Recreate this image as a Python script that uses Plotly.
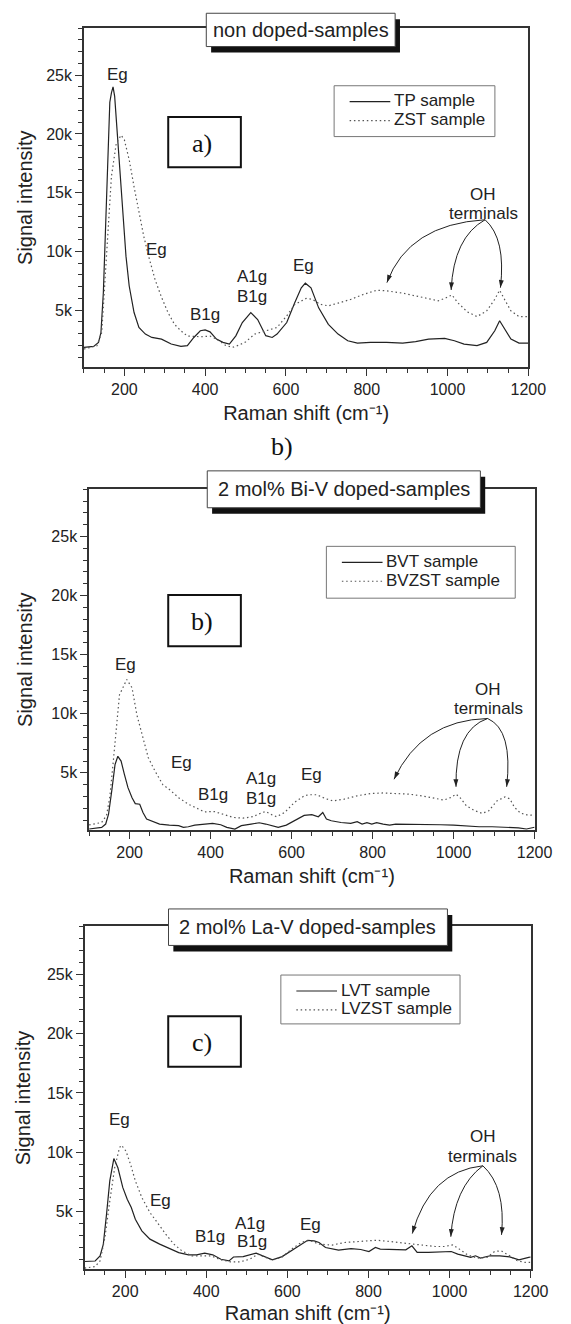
import math
import plotly.graph_objects as go

W, H = 571, 1324

# ---------------------------------------------------------------- data
# Raman shift (cm^-1) and signal intensity (thousands of counts)

# a) non doped samples
tp_shift = [100, 124, 136, 142, 148, 154, 160, 164, 168, 172, 176, 180, 188, 196, 204, 212,
            224, 236, 252, 268, 292, 316, 340, 356, 372, 388, 400, 412, 428, 444, 460, 476,
            492, 513, 530, 550, 566, 578, 602, 622, 638, 648, 662, 681, 705, 729, 753, 777,
            809, 849, 889, 921, 953, 993, 1017, 1041, 1073, 1097, 1117, 1129, 1141, 1157,
            1177, 1200]
tp_k = [1.84, 1.92, 2.26, 3.1, 6.5, 12.1, 19.2, 22.7, 23.5, 24.0, 23.2, 21.2, 16.95, 12.7,
        9.6, 7.06, 4.8, 3.53, 2.97, 2.68, 2.54, 2.12, 1.92, 1.98, 2.68, 3.25, 3.33, 3.16,
        2.54, 2.26, 2.12, 2.82, 3.95, 4.8, 4.2, 2.83, 2.68, 2.97, 3.95, 5.65, 6.9, 7.3, 6.9,
        5.2, 3.8, 2.97, 2.4, 2.2, 2.26, 2.26, 2.2, 2.32, 2.54, 2.6, 2.4, 2.12, 1.98, 2.26,
        3.25, 4.1, 3.4, 2.54, 2.2, 2.2]

zst_shift = [100, 132, 144, 156, 168, 180, 192, 200, 212, 224, 236, 248, 260, 276, 292, 308,
             324, 340, 356, 372, 392, 412, 428, 452, 468, 484, 500, 523, 554, 578, 602, 622,
             650, 665, 685, 705, 729, 761, 793, 825, 849, 889, 937, 977, 993, 1011, 1025,
             1049, 1073, 1097, 1117, 1129, 1141, 1157, 1177, 1200]
zst_k = [1.7, 1.98, 3.1, 9.3, 16.4, 19.2, 19.9, 19.5, 17.8, 15.5, 13.3, 11.3, 9.6, 7.6, 6.1,
         4.8, 3.8, 3.25, 2.8, 2.77, 2.74, 2.8, 2.54, 1.98, 1.84, 2.03, 2.3, 2.97, 3.25, 3.53,
         4.52, 5.5, 6.0, 5.93, 5.5, 5.37, 5.6, 5.93, 6.36, 6.7, 6.65, 6.45, 6.1, 5.8, 6.0,
         6.3, 5.65, 4.86, 4.46, 4.94, 5.93, 6.7, 5.93, 4.94, 4.46, 4.46]

# b) 2 mol% Bi-V doped samples
bvt_shift = [100, 131, 141, 148, 156, 164, 171, 179, 187, 196, 206, 214, 225, 233, 242, 258,
             274, 298, 321, 333, 345, 361, 385, 405, 425, 440, 460, 476, 500, 520, 536, 552,
             567, 587, 607, 631, 650, 666, 677, 686, 698, 722, 746, 762, 774, 786, 798, 810,
             826, 842, 857, 889, 913, 944, 968, 1000, 1032, 1063, 1095, 1127, 1160, 1180, 1200]
bvt_k = [0.25, 0.39, 0.67, 1.5, 3.5, 5.7, 6.4, 6.0, 4.9, 3.75, 2.9, 2.4, 2.35, 1.65, 1.1,
         0.87, 0.67, 0.58, 0.53, 0.39, 0.44, 0.58, 0.67, 0.72, 0.61, 0.39, 0.25, 0.53, 0.67,
         0.78, 0.67, 0.53, 0.39, 0.58, 0.95, 1.4, 1.46, 1.29, 1.65, 1.1, 0.95, 0.8, 0.72,
         0.87, 0.67, 0.78, 0.67, 0.78, 0.67, 0.58, 0.67, 0.67, 0.61, 0.67, 0.61, 0.58, 0.5,
         0.44, 0.44, 0.42, 0.35, 0.25, 0.4]

bvzst_shift = [100, 131, 143, 151, 159, 167, 175, 193, 206, 218, 230, 246, 262, 282, 298,
               321, 345, 369, 385, 409, 433, 456, 480, 504, 528, 536, 548, 563, 583, 607, 631,
               642, 662, 682, 702, 730, 762, 794, 826, 857, 889, 921, 953, 976, 992, 1006,
               1016, 1032, 1052, 1071, 1087, 1107, 1127, 1139, 1150, 1165, 1181, 1200]
bvzst_k = [0.6, 0.8, 1.4, 2.9, 5.7, 8.8, 11.6, 12.9, 12.2, 9.9, 8.25, 6.3, 5.2, 4.0, 3.6,
           2.9, 2.35, 1.93, 1.7, 1.73, 1.5, 1.23, 1.17, 1.29, 1.65, 1.73, 1.5, 1.29, 1.65,
           2.5, 3.05, 3.15, 3.15, 2.84, 2.63, 2.78, 3.06, 3.25, 3.3, 3.28, 3.2, 3.06, 2.87,
           2.7, 2.9, 3.2, 2.9, 2.2, 1.8, 1.57, 1.8, 2.63, 2.97, 2.8, 2.1, 1.6, 1.45, 1.4]

# c) 2 mol% La-V doped samples
lvt_shift = [100, 126, 138, 146, 154, 162, 172, 182, 194, 205, 215, 225, 241, 261, 285, 309,
             332, 356, 376, 396, 416, 436, 456, 467, 491, 523, 539, 563, 587, 610, 634, 650,
             666, 678, 694, 726, 757, 781, 801, 817, 829, 861, 892, 907, 920, 948, 980, 1004,
             1020, 1036, 1052, 1064, 1076, 1100, 1124, 1148, 1171, 1195, 1200]
lvt_k = [0.82, 0.86, 1.28, 2.26, 4.8, 7.6, 9.48, 8.7, 7.05, 6.06, 5.36, 4.38, 3.4, 2.7, 2.28,
         1.94, 1.57, 1.38, 1.38, 1.52, 1.38, 1.01, 0.87, 1.2, 1.23, 1.52, 1.29, 0.96, 1.23,
         1.71, 2.28, 2.6, 2.55, 2.42, 2.0, 1.77, 1.91, 1.83, 1.66, 2.0, 1.86, 1.8, 1.8, 2.14,
         1.58, 1.58, 1.63, 1.66, 1.44, 1.3, 1.16, 1.3, 1.1, 1.3, 1.3, 1.21, 0.96, 1.16, 1.2]

lvzst_shift = [100, 126, 138, 150, 162, 174, 186, 191, 202, 214, 225, 241, 261, 281, 300,
               320, 340, 364, 388, 412, 436, 460, 483, 507, 527, 543, 563, 587, 610, 634, 654,
               678, 710, 741, 781, 821, 861, 900, 932, 964, 988, 1008, 1024, 1044, 1068, 1092,
               1111, 1127, 1148, 1167, 1187, 1200]
lvzst_k = [0.26, 0.4, 0.87, 2.83, 5.9, 8.7, 10.4, 10.6, 10.1, 8.9, 7.6, 6.2, 4.94, 3.96,
           3.12, 2.28, 1.71, 1.29, 1.29, 1.29, 0.96, 0.79, 0.79, 1.01, 1.43, 1.23, 0.93, 1.2,
           1.85, 2.42, 2.6, 2.28, 2.2, 2.42, 2.5, 2.61, 2.47, 2.33, 2.22, 2.08, 2.08, 2.22,
           1.86, 1.38, 1.1, 1.16, 1.66, 1.72, 1.3, 0.88, 0.74, 0.74]

# axis ticks
x_tick_vals = [200, 400, 600, 800, 1000, 1200]
x_tick_text = ["200", "400", "600", "800", "1000", "1200"]
y_tick_vals = [5000, 10000, 15000, 20000, 25000]
y_tick_text = ["5k", "10k", "15k", "20k", "25k"]
X_RANGE = [100, 1200]
Y_RANGE = [150, 29000]

x_title = "Raman shift (cm\u207b\u00b9)"
y_title = "Signal intensity"
panel_titles = ["non doped-samples", "2 mol% Bi-V doped-samples", "2 mol% La-V doped-samples"]
panel_tags = ["a)", "b)", "c)"]
solid_names = ["TP sample", "BVT sample", "LVT sample"]
dotted_names = ["ZST sample", "BVZST sample", "LVZST sample"]

# mode labels: (text, shift, intensity in thousands) per panel
mode_labels = [
    [("Eg", 183, 25.1), ("Eg", 280, 10.2), ("B1g", 400, 4.66), ("A1g", 515, 7.9),
     ("B1g", 515, 6.13), ("Eg", 644, 8.84), ("OH", 1088, 14.83), ("terminals", 1088, 13.2)],
    [("Eg", 189, 14.2), ("Eg", 327, 5.87), ("B1g", 405, 3.2), ("A1g", 524, 4.55),
     ("B1g", 524, 2.83), ("Eg", 648, 4.83), ("OH", 1086, 12.05), ("terminals", 1086, 10.42)],
    [("Eg", 187, 12.8), ("Eg", 286, 5.98), ("B1g", 409, 2.9), ("A1g", 508, 4.0),
     ("B1g", 513, 2.5), ("Eg", 657, 3.96), ("OH", 1082, 11.3), ("terminals", 1082, 9.65)],
]

# curved pointers to the OH bands: start, control point, end (shift, thousands)
oh_arrows = [
    [((1093, 12.7), (903, 12.3), (850, 7.35)),
     ((1093, 12.7), (1015, 11.2), (1009, 6.72)),
     ((1093, 12.7), (1145, 11.1), (1131, 6.92))],
    [((1084, 9.6), (921, 9.46), (853, 4.46)),
     ((1084, 9.6), (1003, 8.66), (1006, 3.82)),
     ((1084, 9.6), (1147, 8.66), (1131, 3.82))],
    [((1082, 8.87), (950, 8.4), (908, 3.17)),
     ((1082, 8.87), (1011, 7.07), (1003, 2.9)),
     ((1082, 8.87), (1139, 7.1), (1128, 3.06))],
]

# ---------------------------------------------------------------- layout geometry (px)
plot_boxes = [  # left, right, top, bottom
    (86.7, 545.5, 28.3, 368.3),
    (92.0, 552.0, 490.7, 832.7),
    (87.4, 548.0, 929.3, 1273.3),
]
title_boxes = [  # left, right, top, bottom
    (213, 408, 13.3, 46.7),
    (214, 496, 472.3, 509.3),
    (174, 462, 911.7, 948.3),
]
tag_boxes = [
    (173.7, 248.7, 117.3, 167.7),
    (173.7, 248.7, 596.7, 648.3),
    (173.7, 248.7, 1019.3, 1070.0),
]
legend_boxes = [  # left, right, top, bottom
    (345, 511, 86, 137),
    (337, 532, 548, 600),
    (290, 475, 978, 1027),
]
x_title_standoff = [9, 9, 10]
y_title_standoff = [8, 13, 11]
between_tag = ("b)", 291, 448)

SANS = "Liberation Sans, Arial, sans-serif"
SERIF = "Liberation Serif, Times New Roman, serif"
INK = "#222222"
AX = "#333333"
DOTTED = "1.5px,2.8px"


def px(xp):
    return xp / W


def py(yp):
    return 1 - yp / H


series = [
    (tp_shift, tp_k, zst_shift, zst_k),
    (bvt_shift, bvt_k, bvzst_shift, bvzst_k),
    (lvt_shift, lvt_k, lvzst_shift, lvzst_k),
]

fig = go.Figure()
shapes = []
annotations = []
layout_axes = {}

for i in range(3):
    n = "" if i == 0 else str(i + 1)
    xa, ya = "x" + n, "y" + n
    s_x, s_y, d_x, d_y = series[i]
    l, r, t, b = plot_boxes[i]

    fig.add_trace(go.Scatter(
        x=s_x, y=[v * 1000 for v in s_y], mode="lines", name=solid_names[i],
        line=dict(color=INK, width=1.2), xaxis=xa, yaxis=ya, showlegend=False))
    fig.add_trace(go.Scatter(
        x=d_x, y=[v * 1000 for v in d_y], mode="lines", name=dotted_names[i],
        line=dict(color="#555555", width=1.2, dash=DOTTED), xaxis=xa, yaxis=ya,
        showlegend=False))

    common = dict(showline=True, linecolor=AX, linewidth=1.5, mirror=True,
                  ticks="outside", tickcolor=AX, tickwidth=1.2, ticklen=7,
                  showgrid=False, zeroline=False,
                  tickfont=dict(family=SANS, size=16, color=INK))
    layout_axes["xaxis" + n] = dict(
        common, domain=[px(l), px(r)], anchor=ya, range=X_RANGE,
        tickmode="array", tickvals=x_tick_vals, ticktext=x_tick_text,
        minor=dict(ticks="outside", tick0=0, dtick=50, ticklen=4, tickcolor=AX, tickwidth=1),
        title=dict(text=x_title, standoff=x_title_standoff[i],
                   font=dict(family=SANS, size=20, color=INK)))
    layout_axes["yaxis" + n] = dict(
        common, domain=[py(b), py(t)], anchor=xa, range=Y_RANGE,
        tickmode="array", tickvals=y_tick_vals, ticktext=y_tick_text,
        minor=dict(ticks="outside", tick0=0, dtick=1000, ticklen=4, tickcolor=AX, tickwidth=1),
        title=dict(text=y_title, standoff=y_title_standoff[i],
                   font=dict(family=SANS, size=20, color=INK)))

    # title box with drop shadow
    tl, tr, tt, tb = title_boxes[i]
    shapes.append(dict(type="rect", xref="paper", yref="paper", layer="above",
                       x0=px(tl + 5), x1=px(tr + 5), y0=py(tb + 6), y1=py(tt + 6),
                       fillcolor="#111111", line=dict(width=0)))
    shapes.append(dict(type="rect", xref="paper", yref="paper", layer="above",
                       x0=px(tl), x1=px(tr), y0=py(tb), y1=py(tt),
                       fillcolor="white", line=dict(color="#444444", width=1)))
    annotations.append(dict(
        xref="paper", yref="paper", x=px((tl + tr) / 2), y=py((tt + tb) / 2),
        text=panel_titles[i], showarrow=False, xanchor="center", yanchor="middle",
        font=dict(family=SANS, size=20, color=INK)))

    # panel tag box
    gl, gr, gt, gb = tag_boxes[i]
    shapes.append(dict(type="rect", xref="paper", yref="paper", layer="above",
                       x0=px(gl), x1=px(gr), y0=py(gb), y1=py(gt),
                       fillcolor="white", line=dict(color="#111111", width=2)))
    annotations.append(dict(
        xref="paper", yref="paper", x=px((gl + gr) / 2 - 3), y=py((gt + gb) / 2 + 1),
        text=panel_tags[i], showarrow=False, xanchor="center", yanchor="middle",
        font=dict(family=SERIF, size=26, color="#111111")))

    # legend: framed box with a line sample per series
    ll, lr, lt, lb = legend_boxes[i]
    shapes.append(dict(type="rect", xref="paper", yref="paper", layer="above",
                       x0=px(ll), x1=px(lr), y0=py(lb), y1=py(lt),
                       fillcolor="white", line=dict(color="#777777", width=1)))
    rows = [(solid_names[i], dict(color=INK, width=1.2), lt + 16),
            (dotted_names[i], dict(color="#555555", width=1.2, dash=DOTTED), lt + 35)]
    for name, style, ry in rows:
        shapes.append(dict(type="line", xref="paper", yref="paper", layer="above",
                           x0=px(ll + 16), x1=px(ll + 58), y0=py(ry), y1=py(ry),
                           line=style))
        annotations.append(dict(
            xref="paper", yref="paper", x=px(ll + 60), y=py(ry - 1), text=name,
            showarrow=False, xanchor="left", yanchor="middle",
            font=dict(family=SANS, size=17, color=INK)))

    # vibrational mode labels
    for text, xs, yk in mode_labels[i]:
        annotations.append(dict(
            xref=xa, yref=ya, x=xs, y=yk * 1000, text=text, showarrow=False,
            xanchor="center", yanchor="middle",
            font=dict(family=SANS, size=17, color=INK)))

    # curved pointers; arrowheads follow the curve's end tangent on screen
    sx = (r - l) / (X_RANGE[1] - X_RANGE[0])
    sy = (b - t) / (Y_RANGE[1] - Y_RANGE[0])
    head_x, head_y, head_angle = [], [], []
    for (x0, y0), (cx, cy), (x1, y1) in oh_arrows[i]:
        shapes.append(dict(
            type="path", xref=xa, yref=ya, layer="above",
            path=f"M {x0},{y0 * 1000} Q {cx},{cy * 1000} {x1},{y1 * 1000}",
            line=dict(color=INK, width=1)))
        dx = (x1 - cx) * sx
        dy = -(y1 - cy) * 1000 * sy
        head_x.append(x1)
        head_y.append(y1 * 1000)
        head_angle.append(math.degrees(math.atan2(dx, -dy)))
    fig.add_trace(go.Scatter(
        x=head_x, y=head_y, mode="markers", xaxis=xa, yaxis=ya, showlegend=False,
        hoverinfo="skip",
        marker=dict(symbol="arrow", size=8, angle=head_angle, color=INK,
                    line=dict(width=0))))

annotations.append(dict(
    xref="paper", yref="paper", x=px(between_tag[1]), y=py(between_tag[2]),
    text=between_tag[0], showarrow=False, xanchor="center", yanchor="middle",
    font=dict(family=SERIF, size=26, color="#111111")))

fig.update_layout(
    width=W, height=H, margin=dict(l=0, r=0, t=0, b=0),
    paper_bgcolor="white", plot_bgcolor="white", showlegend=False,
    shapes=shapes, annotations=annotations, **layout_axes)

fig.write_html("out.html")
